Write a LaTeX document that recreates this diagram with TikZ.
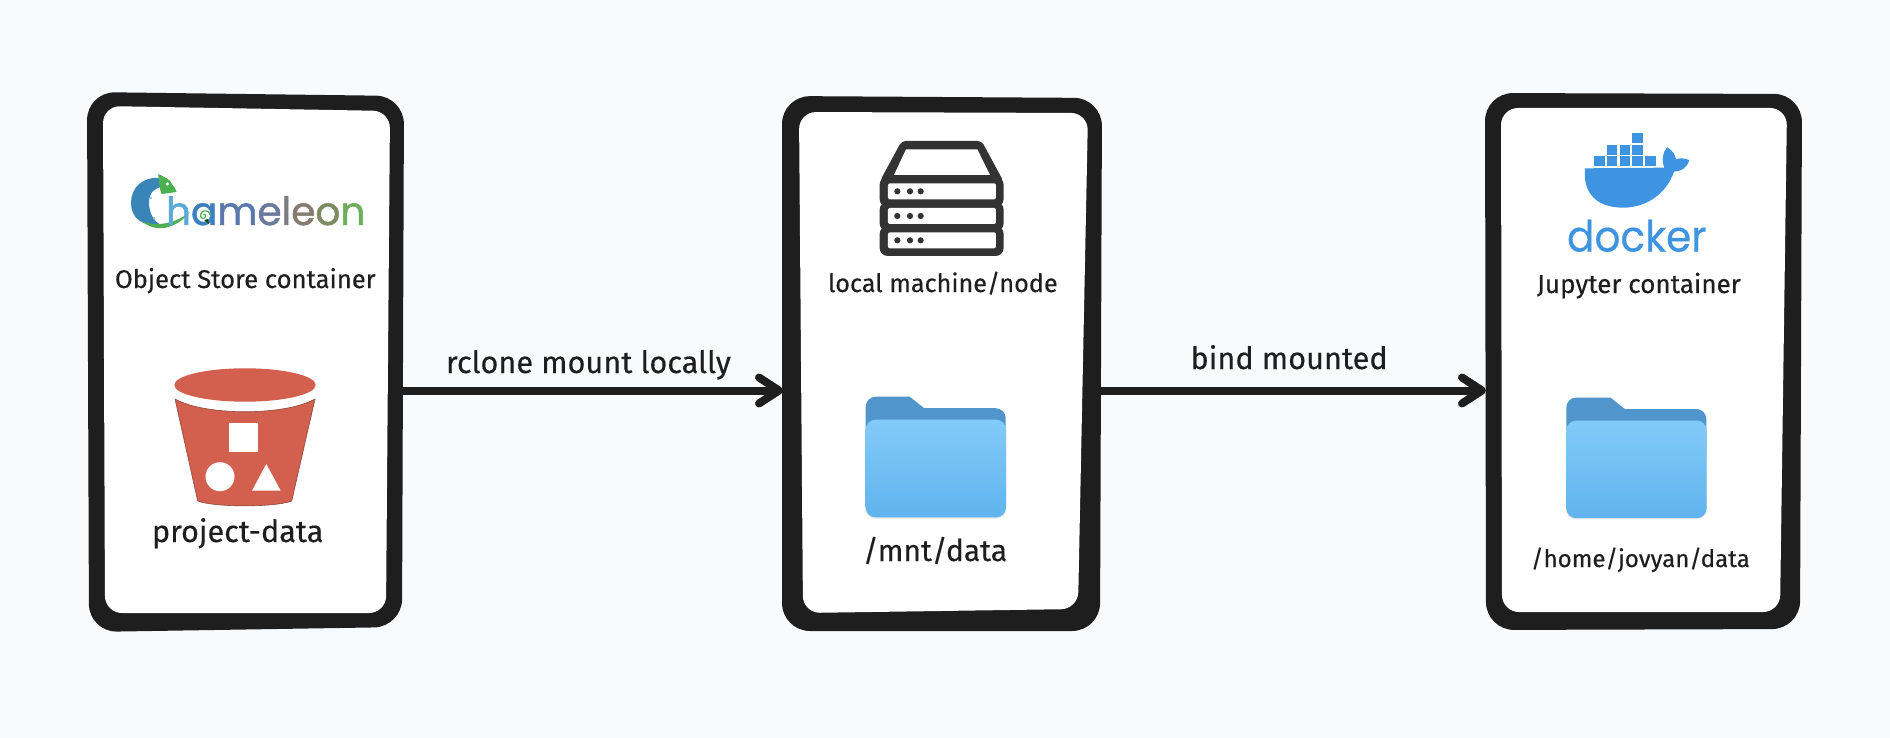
\documentclass[tikz,border=0pt]{standalone}
\usepackage{fontspec}
\setmainfont{Fira Sans}[FakeBold=0.35]
\newfontfamily\logofont{Poppins}[FakeBold=1.2]
\newfontfamily\dockfont{Poppins}[FakeBold=0.3]
\usetikzlibrary{arrows.meta}
\definecolor{bgc}{HTML}{F9FAFC}
\definecolor{ink}{HTML}{1E1E1E}
\definecolor{bucketc}{HTML}{D35F4E}
\definecolor{bucketd}{HTML}{8C4A3C}
\definecolor{serverc}{HTML}{333333}
\definecolor{dockerc}{HTML}{3E94E0}
\definecolor{folderb}{HTML}{5096CD}
\definecolor{foldert}{HTML}{82CBF9}
\definecolor{folderm}{HTML}{60B3EE}
\definecolor{chamblue}{HTML}{3A85B8}
\definecolor{chamgreen}{HTML}{4CAF50}
\tikzset{
  boxn/.style={draw=none,fill=none,inner sep=0pt,outer sep=0pt},
  lbl/.style={anchor=base west,inner sep=0pt,outer sep=0pt,text=ink},
  conn/.style={draw=ink,line width=8pt,-{Straight Barb[round,length=20pt,width=26pt]}},
  outerbox/.style={fill=ink,rounded corners=28pt},
  innerbox/.style={fill=white,rounded corners=17pt},
}
\newcommand{\fs}[1]{\fontsize{#1}{#1}\selectfont}
% folder icon, x0,y0 = top left of tab
\newcommand{\foldericon}[2]{%
  \begin{scope}[shift={(#1,#2)}]
    \fill[black,opacity=.10,rounded corners=10pt] (-0.5,24) rectangle (140.5,121.8);
    \fill[folderb] (0,60) -- (0,10) arc[start angle=180,end angle=90,radius=10pt] -- (44,0) -- (58.5,11.5) -- (130,11.5) arc[start angle=90,end angle=0,radius=10pt] -- (140,60) -- cycle;
    \shade[top color=foldert,bottom color=folderm,rounded corners=10pt] (0,23) rectangle (140.3,120.7);
  \end{scope}}
\begin{document}
\begin{tikzpicture}[x=1pt,y=-1pt]
\useasboundingbox (0,0) rectangle (1890,738);
\fill[bgc] (0,0) rectangle (1890,738);

% invisible box nodes and connector height
\node[boxn,minimum width=316pt,minimum height=538pt] (box1) at (245,361) {};
\node[boxn,minimum width=318pt,minimum height=534pt] (box2) at (942,364) {};
\node[boxn,minimum width=315pt,minimum height=537pt] (box3) at (1643.5,361.5) {};
\coordinate (port) at (0,390.5);

% connectors
\draw[conn] (box1.east |- port) -- (box2.west |- port);
\draw[conn] (box2.east |- port) -- (box3.west |- port);

% box 1
\fill[outerbox] (87,92) -- (404,96) -- (402,627) -- (89,632) -- cycle;
\fill[innerbox] (103,106) -- (390,111) -- (386,613) -- (105,613) -- cycle;
% box 2
\fill[outerbox] (782,96) -- (1102,98) -- (1100,631) -- (782,631) -- cycle;
\fill[innerbox] (799,112) -- (1088,113) -- (1078,609) -- (803,613) -- cycle;
% box 3
\fill[outerbox] (1485,93) -- (1802,94) -- (1800,629) -- (1486,630) -- cycle;
\fill[innerbox] (1501,108) -- (1787,108) -- (1780,612) -- (1502,612) -- cycle;

% connector labels
\node[lbl,font=\fs{30.7}] (l1) at (446,373) {rclone mount locally};
\node[lbl,font=\fs{30.7}] (l2) at (1190.5,369) {bind mounted};

% box texts
\node[lbl,font=\fs{25.6}] (t1) at (115,288) {Object Store container};
\node[lbl,font=\fs{30.6}] (t2) at (152,542) {project-data};
\node[lbl,font=\fs{25.2}] (t3) at (828,292) {local machine/node};
\node[lbl,font=\fs{26}] (t4) at (1537,293) {Jupyter container};
\node[lbl,font=\fs{24.1}] (t5) at (1531,567) {/home/jovyan/data};
\node[lbl,font=\fs{30}] (t6) at (863,561) {/mnt/data};

% chameleon logo
\fill[chamblue] (162,178) .. controls (142,176) and (131,188) .. (131,203)
  .. controls (131,218) and (142,227) .. (163,226)
  .. controls (153,222) and (149,212) .. (149,203)
  .. controls (149,193) and (154,188) .. (162,187) -- cycle;
\fill[chamgreen] (142,221) .. controls (155,233) and (175,230) .. (190,212)
  .. controls (178,222) and (158,228) .. (142,221) -- cycle;
\fill[chamgreen] (158.3,174) .. controls (164,177) and (170,179) .. (172,184)
  .. controls (174,187) and (176,189) .. (176.7,192)
  -- (161.7,194) .. controls (160,190) and (159,186) .. (158.3,174) -- cycle;
\fill[white] (167.3,184) circle[radius=1.7pt];
\fill[chamblue!60!white] (151,198) circle[radius=1.2pt] (154,218) circle[radius=1.2pt];
\node[anchor=base west,inner sep=0pt,outer sep=0pt,font=\logofont\fs{39}] (logo) at (166,225)
  {\textcolor[HTML]{5AA9D8}{h}\textcolor[HTML]{3F7FC0}{a}\textcolor[HTML]{5A78AE}{m}\textcolor[HTML]{6A7A9C}{e}\textcolor[HTML]{7C7B80}{l}\textcolor[HTML]{857B70}{e}\textcolor[HTML]{7F8A62}{o}\textcolor[HTML]{6CAE5A}{n}};
\draw[chamgreen,line width=1.2pt] (203.5,215) .. controls (205,213) and (207,216) .. (204.5,218)
  .. controls (201,220) and (199,215) .. (202,212) .. controls (205,209.5) and (210,211) .. (210,215);
\fill[black!70!green] (204,220) -- (208,219) -- (209,224) -- cycle;

% bucket
\fill[bucketc] (245,385) ellipse[x radius=70.7pt,y radius=16.7pt];
\filldraw[fill=bucketc,draw=bucketd,line width=.6pt] (175,399) .. controls (205,416) and (285,416) .. (315,399)
  -- (291.7,501) .. controls (275,507.5) and (215,507.5) .. (197.7,501) -- cycle;
\fill[white] (229,423) rectangle (258.3,452.3);
\fill[white] (220,476.7) circle[radius=14.5pt];
\fill[white] (266.3,464) -- (280.7,490.7) -- (252,490.7) -- cycle;

% server icon
\begin{scope}[shift={(770,80)},x=0.3333pt,y=-0.3333pt]
  \fill[serverc,rounded corners=4pt] (395,183) -- (635,183) -- (701,305) -- (329,305) -- cycle;
  \fill[white] (408,208) -- (622,208) -- (660,285) -- (372,285) -- cycle;
  \fill[serverc,rounded corners=8pt] (329,290) rectangle (701,381);
  \fill[serverc,rounded corners=8pt] (329,365) rectangle (701,454);
  \fill[serverc,rounded corners=8pt] (329,438) rectangle (701,528);
  \foreach \y in {310,384,457}{
    \fill[white,rounded corners=2pt] (354,\y) rectangle (678,\y+48);
    \foreach \x in {382,420,452}
      \fill[serverc] (\x,\y+24) circle[radius=3.1pt];
  }
\end{scope}

% docker icon
\begin{scope}[shift={(1470,80)},x=0.3333pt,y=-0.3333pt]
  \foreach \a/\b in {372/404,410/442,449/481,487/520,526/559}
    \fill[dockerc] (\a,229) rectangle (\b,259);
  \foreach \a/\b in {410/442,449/481,487/520}
    \fill[dockerc] (\a,194) rectangle (\b,224);
  \fill[dockerc] (487,158) rectangle (520,188);
  \fill[dockerc] (345,265) -- (583,263)
    .. controls (574,240) and (578,215) .. (592,202)
    .. controls (608,212) and (616,224) .. (618,238)
    .. controls (632,233) and (648,235) .. (658,241)
    .. controls (650,266) and (630,275) .. (612,275)
    .. controls (590,340) and (530,383) .. (460,383)
    .. controls (380,383) and (338,340) .. (345,265) -- cycle;
\end{scope}
\node[anchor=base west,inner sep=0pt,outer sep=0pt,text=dockerc,font=\dockfont\fs{43}] (dock) at (1567,251.5)
  {\scalebox{.945}[1]{docker}};

% folders
\foldericon{865.7}{396.7}
\foldericon{1566.3}{397.5}
\end{tikzpicture}
\end{document}
